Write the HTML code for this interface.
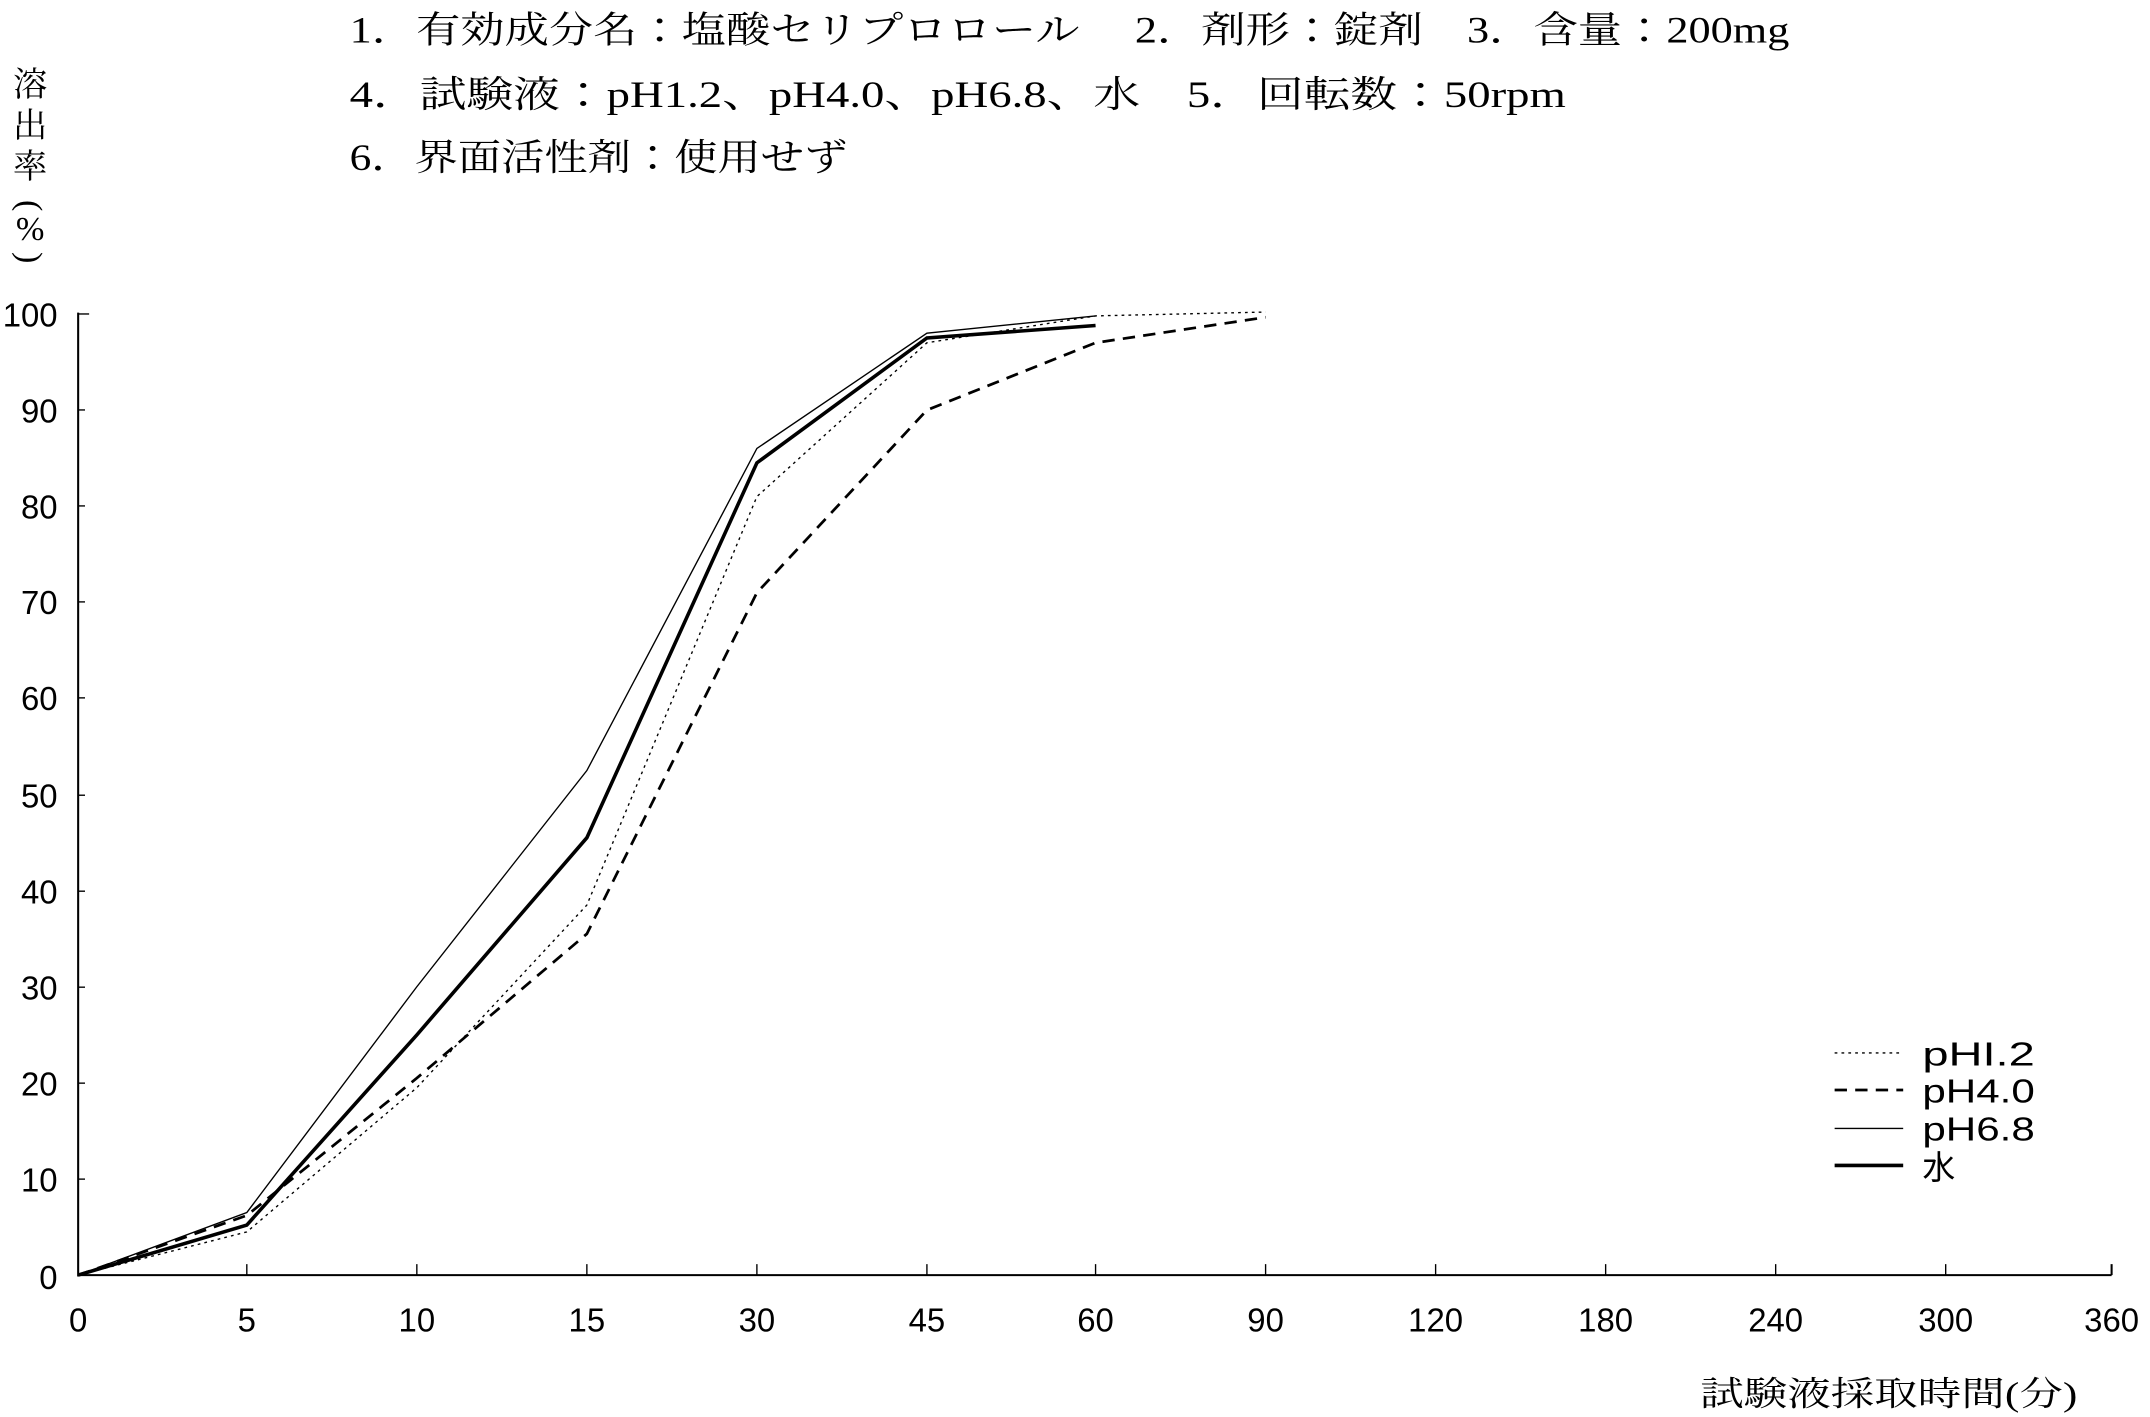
<!DOCTYPE html>
<html><head><meta charset="utf-8"><style>
html,body{margin:0;padding:0;background:#fff;}
svg{display:block;}
.t{font-family:"Liberation Serif","Noto Serif CJK JP",serif;font-size:27px;fill:#000;}
.n{font-family:"Liberation Sans","DejaVu Sans",sans-serif;font-size:24px;fill:#000;}
</style></head><body>
<svg width="2150" height="1417" viewBox="0 0 1568 1033.5" preserveAspectRatio="none" xmlns="http://www.w3.org/2000/svg">
<text class="t" x="255" y="31" textLength="1050" lengthAdjust="spacingAndGlyphs">1．有効成分名：塩酸セリプロロール　 2．剤形：錠剤　3．含量：200mg</text>
<text class="t" x="255" y="78" textLength="887" lengthAdjust="spacingAndGlyphs">4．試験液：pH1.2、pH4.0、pH6.8、水　5．回転数：50rpm</text>
<text class="t" x="255" y="124" textLength="363" lengthAdjust="spacingAndGlyphs">6．界面活性剤：使用せず</text>
<g class="t" style="font-size:25px" text-anchor="middle">
<text x="22" y="70">溶</text><text x="22" y="100">出</text><text x="22" y="130">率</text>
<text x="22" y="158" transform="rotate(90 22 150)">(</text>
<text x="22" y="175">%</text>
<text x="22" y="196" transform="rotate(90 22 188)">)</text>
</g>
<g stroke="#000" stroke-width="1.5" fill="none">
<line x1="57" y1="228" x2="57" y2="931"/>
<line x1="57" y1="930" x2="1540" y2="930"/>
<line x1="1540" y1="922" x2="1540" y2="930"/>
</g>
<g stroke="#000" stroke-width="1">
<line x1="57" y1="229" x2="65" y2="229"/><line x1="57" y1="299" x2="62" y2="299"/><line x1="57" y1="369" x2="62" y2="369"/><line x1="57" y1="439" x2="62" y2="439"/><line x1="57" y1="509" x2="62" y2="509"/><line x1="57" y1="580" x2="62" y2="580"/><line x1="57" y1="650" x2="62" y2="650"/><line x1="57" y1="720" x2="62" y2="720"/><line x1="57" y1="790" x2="62" y2="790"/><line x1="57" y1="860" x2="62" y2="860"/>
<line x1="180" y1="922" x2="180" y2="930"/><line x1="304" y1="922" x2="304" y2="930"/><line x1="428" y1="922" x2="428" y2="930"/><line x1="552" y1="922" x2="552" y2="930"/><line x1="676" y1="922" x2="676" y2="930"/><line x1="799" y1="922" x2="799" y2="930"/><line x1="923" y1="922" x2="923" y2="930"/><line x1="1047" y1="922" x2="1047" y2="930"/><line x1="1171" y1="922" x2="1171" y2="930"/><line x1="1295" y1="922" x2="1295" y2="930"/><line x1="1419" y1="922" x2="1419" y2="930"/>
</g>
<g class="n" text-anchor="end">
<text x="42" y="238">100</text><text x="42" y="308">90</text><text x="42" y="378">80</text><text x="42" y="448">70</text><text x="42" y="518">60</text><text x="42" y="589">50</text><text x="42" y="659">40</text><text x="42" y="729">30</text><text x="42" y="799">20</text><text x="42" y="869">10</text><text x="42" y="940">0</text>
</g>
<g class="n" text-anchor="middle">
<text x="57" y="971">0</text><text x="180" y="971">5</text><text x="304" y="971">10</text><text x="428" y="971">15</text><text x="552" y="971">30</text><text x="676" y="971">45</text><text x="799" y="971">60</text><text x="923" y="971">90</text><text x="1047" y="971">120</text><text x="1171" y="971">180</text><text x="1295" y="971">240</text><text x="1419" y="971">300</text><text x="1540" y="971">360</text>
</g>
<text class="t" style="font-size:25px" x="1240" y="1025" textLength="275" lengthAdjust="spacingAndGlyphs">試験液採取時間(分)</text>
<g fill="none" stroke="#000">
<polyline stroke-width="1" stroke-dasharray="2,3" points="57,930 180,898.5 304,793.3 428,660.1 552,362.2 676,250 799,230.4 923,227.6"/>
<polyline stroke-width="2" stroke-dasharray="9,6" points="57,930 180,886.5 304,786.3 428,681.1 552,432.3 676,299.1 799,250 923,231.4"/>
<polyline stroke-width="1" points="57,930 180,884.4 304,719.7 428,562 552,327.1 676,243 799,230.4"/>
<polyline stroke-width="2.6" points="57,930 180,893.5 304,754.8 428,611 552,337.6 676,246.5 799,237.4"/>
<line x1="1338" y1="768" x2="1388" y2="768" stroke-width="1" stroke-dasharray="2,3"/>
<line x1="1338" y1="795" x2="1388" y2="795" stroke-width="2" stroke-dasharray="9,6"/>
<line x1="1338" y1="823" x2="1388" y2="823" stroke-width="1"/>
<line x1="1338" y1="850" x2="1388" y2="850" stroke-width="2.6"/>
</g>
<g class="n">
<text x="1402" y="777" textLength="82" lengthAdjust="spacingAndGlyphs">pHI.2</text><text x="1402" y="804" textLength="82" lengthAdjust="spacingAndGlyphs">pH4.0</text><text x="1402" y="832" textLength="82" lengthAdjust="spacingAndGlyphs">pH6.8</text>
<text x="1402" y="860" style="font-family:'Liberation Sans','Noto Sans CJK JP',sans-serif">水</text>
</g>
</svg>
</body></html>
